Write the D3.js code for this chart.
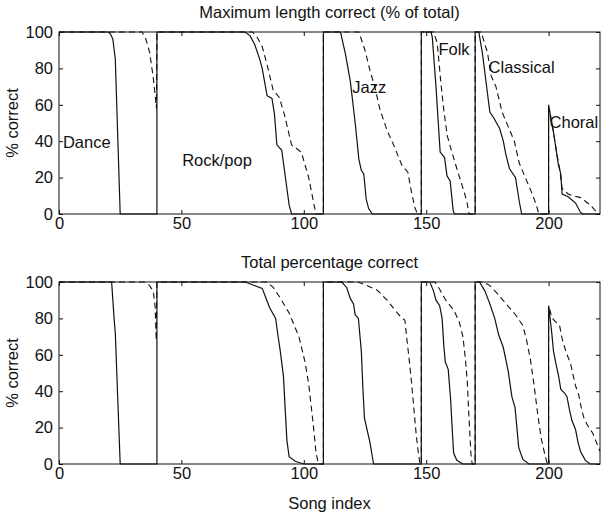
<!DOCTYPE html>
<html>
<head>
<meta charset="utf-8">
<script src="https://cdn.jsdelivr.net/npm/d3@7"></script>
<style>
body { margin: 0; background: #fff; }
text { font-family: "Liberation Sans", Arial, sans-serif; fill: #111; }
</style>
</head>
<body>
<div id="chart"></div>
<script>
const width = 602;
const height = 516;

// data: [song index, % correct]
const titles = ["Maximum length correct (% of total)", "Total percentage correct"];
const xTicks = [0, 50, 100, 150, 200];
const yTicks = [0, 20, 40, 60, 80, 100];
const songCount = 221;

const genres = ["Dance", "Rock/pop", "Jazz", "Folk", "Classical", "Choral"];
const genreLabelX = [1.6, 50.3, 119.8, 155, 175.5, 200.4];
const genreLabelY = [36, 26.4, 66.5, 87.4, 77.5, 47.3];

const maxLengthSolid = [
    [0,100],[20,100],[21,99],[22,96],[23,85],[25,0],[40,0],
    [40,100],[76,100],[78,98],[80,93],[82,85],[83,80],[85,65],[87,63.5],[88,55],[89,38],[91,35],[92,25],[94,5],[95,0],[108,0],
    [108,100],[115,100],[117,88],[119,73],[121,50],[122.5,30],[123.5,24],[124.5,22],[125.5,8],[126.5,3],[128,0],[148,0],
    [148,100],[152,100],[152.5,97],[154,70],[155.7,34],[157.5,31],[158.5,21],[159.8,18],[161,2],[161.5,0],[170,0],
    [170,100],[171.5,100],[173,88],[174.5,72],[176,56],[177.5,53],[180,47],[181.5,40],[182.5,33],[184,25],[186.5,20],[188,7],[189,0],[200,0],
    [200,60],[202,45],[204,27],[205,22],[205.5,11],[208,9.5],[211,6],[213,1],[214,0],[221,0]
];
const maxLengthDashed = [
    [0,100],[34,100],[35.5,96],[37,89],[38.5,75],[39.3,65],[39.8,58],
    [40,100],[79,100],[81,97],[83,92],[85,82],[87.5,68],[90,64],[92,55],[95,38],[97,36],[99,34],[102,20],[104.5,3],[105,0],[108,0],
    [108,100],[122.5,100],[125,90],[127,79],[129,70],[131,58],[134,46],[137,37],[140,27],[142.5,23],[144,12],[145.5,3],[146.5,0],[148,0],
    [148,100],[153,100],[154.5,94],[156,72],[157.2,57],[158.6,43],[160.5,34],[162.5,25],[164.6,16],[166.6,7],[167.5,0],[170,0],
    [170,100],[172.5,100],[174,93],[175,89],[176.5,76],[178.5,70],[181,56],[183.5,48],[186,40],[188,28],[190.5,20],[193,12],[195,5],[196,0],[200,0],
    [200,58],[202,45],[203.5,32],[204.5,25],[205.5,14],[208,11],[210,10],[213,9],[215,7],[217,5],[219,2],[220.5,0],[221,0]
];
const totalSolid = [
    [0,100],[21.5,100],[22.5,80],[23,72],[25,0],[40,0],
    [40,100],[76,100],[79,98.5],[83,96.5],[84.3,92],[86,86],[88.5,80],[89.3,72],[90.4,62],[91.7,48],[92.4,30],[93.1,13],[94,4],[96.5,1.5],[100,0],[108,0],
    [108,100],[115.5,100],[117.5,97],[119,91],[120.3,88],[121,82],[122.3,80],[123.5,62],[124.2,40],[124.8,25],[127,12],[128.5,0],[148,0],
    [148,100],[151.5,100],[153,95],[154,90],[155.5,87],[156.5,80],[157.2,65],[157.8,56],[159,52],[160,35],[160.6,20],[161.2,6],[162.5,2],[165,0],[170,0],
    [170,100],[171.8,100],[174,95],[176,88],[178,80],[179.6,71],[181.5,64],[183.5,51],[185,37],[186.3,31],[187.8,9],[189.5,2.5],[192,0],[200,0],
    [200,87],[201.3,72],[202,62],[203,55],[204,49],[205,41],[206.5,39],[207.5,37],[208.5,30],[209.5,24],[211,19],[212,12],[213,7],[215,2],[217,0],[221,0]
];
const totalDashed = [
    [0,100],[35,100],[37,98],[38.5,95],[39.3,86],[39.7,68],
    [40,100],[85,100],[87.5,97],[90,92],[94,83],[98,70],[100.5,56],[102,44],[103,32],[104,20],[105,6],[106,0],[108,0],
    [108,100],[122,100],[126,98],[130,95.5],[134,90],[137,85],[139.5,81],[141.3,79],[142,70],[143,58],[144,45],[145,30],[146,15],[147,4],[147.5,0],[148,0],
    [148,100],[153.5,100],[155.5,96],[158,90],[161.5,84],[163.5,78],[165,70],[166,58],[166.8,45],[167.5,25],[168.3,5],[168.8,0],[170,0],
    [170,100],[173.5,100],[176,98],[178.5,94.5],[182,89],[186.5,82],[189.5,76],[191,68],[192.5,58],[194,44],[195.5,28],[197,14],[198.5,5],[199.5,0],[200,0],
    [200,87],[201.5,80],[203,78],[204.5,76],[205.5,69],[207,62],[209,55],[211,43],[212.3,38],[213.5,30],[214.5,25],[216,21],[218,17],[219.5,12],[221,7]
];

// layout
const plotLeft = 59;
const plotRight = 600;
const panels = [
    { top: 32, bottom: 214, solid: maxLengthSolid, dashed: maxLengthDashed, labels: true },
    { top: 282, bottom: 464, solid: totalSolid, dashed: totalDashed, labels: false }
];
const fontSize = "16.5px";

const svg = d3.select('#chart')
    .append('svg')
    .attr('width', width)
    .attr('height', height)
    .style('background', '#fff');

const xScale = d3.scaleLinear()
    .domain([0, songCount])
    .range([plotLeft, plotRight]);

panels.forEach((p, i) => {
    const yScale = d3.scaleLinear()
        .domain([0, 100])
        .range([p.bottom, p.top]);

    const g = svg.append("g");

    // frame
    g.append("rect")
        .attr("x", plotLeft)
        .attr("y", p.top)
        .attr("width", plotRight - plotLeft)
        .attr("height", p.bottom - p.top)
        .attr("fill", "none")
        .attr("stroke", "#111")
        .attr("stroke-width", 1);

    // axes, matlab style ticks pointing inwards
    const xAxisGroup = g.append("g")
        .attr("transform", `translate(0, ${p.bottom})`)
        .call(d3.axisBottom(xScale).tickValues(xTicks).tickSizeInner(-4).tickSizeOuter(0).tickPadding(3));
    g.append("g")
        .attr("transform", `translate(0, ${p.top})`)
        .call(d3.axisTop(xScale).tickValues(xTicks).tickSizeInner(-4).tickSizeOuter(0).tickFormat(""));
    const yAxisGroup = g.append("g")
        .attr("transform", `translate(${plotLeft}, 0)`)
        .call(d3.axisLeft(yScale).tickValues(yTicks).tickSizeInner(-4).tickSizeOuter(0).tickPadding(6));
    g.append("g")
        .attr("transform", `translate(${plotRight}, 0)`)
        .call(d3.axisRight(yScale).tickValues(yTicks).tickSizeInner(-4).tickSizeOuter(0).tickFormat(""));

    g.selectAll(".domain").remove();
    g.selectAll(".tick line").attr("stroke", "#111");
    g.selectAll(".tick text")
        .style("font-size", fontSize)
        .attr("fill", "#111");

    // curves
    const line = d3.line()
        .x(d => xScale(d[0]))
        .y(d => yScale(d[1]));

    g.append("path")
        .datum(p.dashed)
        .attr("d", line)
        .attr("fill", "none")
        .attr("stroke", "#111")
        .attr("stroke-width", 1.1)
        .attr("stroke-dasharray", "6,4");

    g.append("path")
        .datum(p.solid)
        .attr("d", line)
        .attr("fill", "none")
        .attr("stroke", "#111")
        .attr("stroke-width", 1.2);

    // title
    g.append("text")
        .attr("x", (plotLeft + plotRight) / 2)
        .attr("y", p.top - 14)
        .attr("text-anchor", "middle")
        .style("font-size", fontSize)
        .text(titles[i]);

    // y label
    g.append("text")
        .attr("transform", `translate(18, ${(p.top + p.bottom) / 2}) rotate(-90)`)
        .attr("text-anchor", "middle")
        .style("font-size", fontSize)
        .text("% correct");

    if (p.labels) {
        g.selectAll(".genre")
            .data(genres)
            .join("text")
            .attr("class", "genre")
            .attr("x", (d, k) => xScale(genreLabelX[k]))
            .attr("y", (d, k) => yScale(genreLabelY[k]))
            .style("font-size", fontSize)
            .text(d => d);
    }
});

svg.append("text")
    .attr("x", (plotLeft + plotRight) / 2)
    .attr("y", 509)
    .attr("text-anchor", "middle")
    .style("font-size", fontSize)
    .text("Song index");
</script>
</body>
</html>
